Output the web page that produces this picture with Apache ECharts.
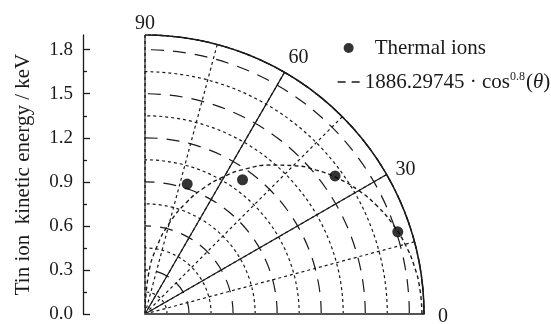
<!DOCTYPE html>
<html>
<head>
<meta charset="utf-8">
<script src="https://cdn.jsdelivr.net/npm/echarts@6/dist/echarts.min.js"></script>
<style>
html, body { margin: 0; padding: 0; background: #fff; }
#main { width: 551px; height: 324px; }
</style>
</head>
<body>
<div id="main"></div>
<script>
// measured points (angle in degrees, energy in keV)
var ionAngles = [18, 36, 54, 72];
var ionEnergies = [1.81, 1.60, 1.13, 0.93];

// fit curve
var fitAngles = [0, 5, 10, 15, 20, 25, 30, 35, 40, 45, 50, 55, 60, 65, 70, 75, 80, 85, 90];
var fitEnergies = [1.886, 1.880, 1.863, 1.834, 1.794, 1.743, 1.681, 1.608, 1.524, 1.429,
                   1.324, 1.209, 1.083, 0.947, 0.799, 0.640, 0.465, 0.268, 0];

var yTicks = [0, 0.3, 0.6, 0.9, 1.2, 1.5, 1.8];
var yMinorTicks = [0.15, 0.45, 0.75, 1.05, 1.35, 1.65];

var fitName = '1886.29745 · cos^0.8(θ)';
var serif = '"Liberation Serif", "DejaVu Serif", serif';
var ink = '#1a1a1a';

var chart = echarts.init(document.getElementById('main'));

var ionData = ionAngles.map(function (a, i) { return [ionEnergies[i], a]; });
var fitData = fitAngles.map(function (a, i) { return [fitEnergies[i], a]; });

var R = 279;
var ORIGIN = [145, 314];
var RMAX = 1.9;

var option = {
    animation: false,
    grid: { left: 83, top: ORIGIN[1] - R, width: 1, height: R },
    xAxis: { type: 'value', show: false },
    yAxis: [{
        type: 'value', min: 0, max: RMAX, position: 'left',
        name: 'Tin ion  kinetic energy / keV', nameLocation: 'middle', nameGap: 49,
        nameTextStyle: { fontFamily: serif, fontSize: 21, color: ink },
        axisLine: { show: true, lineStyle: { color: ink, width: 1.3 } },
        axisTick: { show: true, inside: true, length: 7, customValues: yTicks, lineStyle: { color: ink, width: 1.3 } },
        axisLabel: { customValues: yTicks, margin: 10, fontFamily: serif, fontSize: 19, color: ink,
            formatter: function (v) { return v.toFixed(1); } },
        splitLine: { show: false }
    }, {
        type: 'value', min: 0, max: RMAX, position: 'left', offset: 0,
        axisLine: { show: false },
        axisTick: { show: true, inside: true, length: 4, customValues: yMinorTicks, lineStyle: { color: ink, width: 1.3 } },
        axisLabel: { show: false },
        splitLine: { show: false }
    }],
    polar: [
        { center: ORIGIN, radius: [0, R] },
        { center: ORIGIN, radius: [0.15 / RMAX * R, R] },
        { center: ORIGIN, radius: [0, R] }
    ],
    angleAxis: [{
        polarIndex: 0, type: 'value', min: 0, max: 90, interval: 30,
        startAngle: 0, endAngle: 90, clockwise: false, z: 3,
        axisLine: { show: true, lineStyle: { color: ink, width: 1.6 } },
        axisTick: { show: false },
        axisLabel: {
            margin: 8, fontFamily: serif, fontSize: 20, color: ink,
            formatter: function (v) { return '{a' + v + '|' + v + '}'; },
            rich: {
                a0: { fontFamily: serif, fontSize: 20, color: ink, padding: [5, 0, 0, 6] },
                a30: { fontFamily: serif, fontSize: 20, color: ink, lineHeight: 2, padding: [0, 0, 0, 2] },
                a60: { fontFamily: serif, fontSize: 20, color: ink, lineHeight: 16 },
                a90: { fontFamily: serif, fontSize: 20, color: ink, lineHeight: 6 }
            }
        },
        splitLine: { show: true, lineStyle: { color: ink, width: 1.2 } }
    }, {
        polarIndex: 1, type: 'value', min: 0, max: 90,
        startAngle: 0, endAngle: 90, clockwise: false,
        axisLine: { show: false }, axisTick: { show: false }, axisLabel: { show: false },
        splitLine: { show: false }
    }, {
        polarIndex: 2, type: 'value', min: 0, max: 90, interval: 15,
        startAngle: 0, endAngle: 90, clockwise: false,
        axisLine: { show: false }, axisTick: { show: false }, axisLabel: { show: false },
        splitLine: { show: true, lineStyle: { color: ink, width: 1.2, type: [3, 3] } }
    }],
    radiusAxis: [{
        polarIndex: 0, type: 'value', min: 0, max: RMAX, interval: 0.3, z: 3,
        axisLine: { show: true, lineStyle: { color: '#555', width: 2 } },
        axisTick: { show: false }, axisLabel: { show: false },
        splitLine: { show: true, lineStyle: { color: ink, width: 1.2, type: [13, 9] } }
    }, {
        polarIndex: 1, type: 'value', min: 0.15, max: RMAX, interval: 0.3,
        axisLine: { show: false }, axisTick: { show: false }, axisLabel: { show: false },
        splitLine: { show: true, lineStyle: { color: ink, width: 1.2, type: [3, 3] } }
    }, {
        polarIndex: 2, type: 'value', min: 0, max: RMAX,
        axisLine: { show: false }, axisTick: { show: false }, axisLabel: { show: false },
        splitLine: { show: false }
    }],
    legend: {
        orient: 'vertical', left: 332, top: 31, itemWidth: 22, itemHeight: 10, itemGap: 10,
        textStyle: {
            fontFamily: serif, fontSize: 21, color: ink, lineHeight: 24,
            rich: {
                p: { fontFamily: serif, fontSize: 21, color: ink, padding: [0, 0, 0, 10] },
                t: { fontFamily: serif, fontSize: 21, color: ink },
                sup: { fontFamily: serif, fontSize: 12, color: ink, padding: [0, 1, 10, 0] },
                it: { fontFamily: serif, fontSize: 21, color: ink, fontStyle: 'italic' }
            }
        },
        formatter: function (name) {
            if (name === 'Thermal ions') return '{p|Thermal ions}';
            return '{t|1886.29745 · cos}{sup|0.8}{t|(}{it|θ}{t|)}';
        },
        data: [
            { name: 'Thermal ions', icon: 'circle' },
            { name: fitName, lineStyle: { type: [8, 6], width: 1.3, color: ink },
              itemStyle: { color: 'rgba(0,0,0,0)', borderWidth: 0, opacity: 0 } }
        ]
    },
    series: [{
        name: fitName, type: 'line', coordinateSystem: 'polar', polarIndex: 0,
        data: fitData, symbol: 'none', smooth: true, z: 5, color: ink,
        lineStyle: { color: ink, width: 1.4, type: [4, 3] }
    }, {
        name: 'Thermal ions', type: 'scatter', coordinateSystem: 'polar', polarIndex: 0,
        data: ionData, symbol: 'circle', symbolSize: 11, z: 6,
        itemStyle: { color: '#000' }
    }]
};

chart.setOption(option);
</script>
</body>
</html>
